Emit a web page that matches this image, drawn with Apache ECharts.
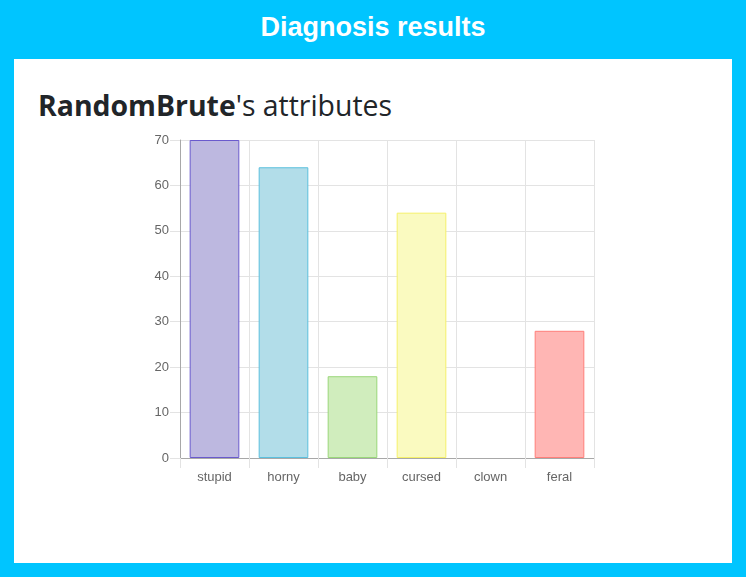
<!DOCTYPE html>
<html>
<head>
<meta charset="utf-8">
<script src="https://cdn.jsdelivr.net/npm/echarts@6/dist/echarts.min.js"></script>
<style>
    html, body { margin: 0; padding: 0; }
    body { width: 746px; height: 577px; background: #00c5ff; position: relative; overflow: hidden; }
    #top_title { position: absolute; left: 0; top: 0; width: 746px; height: 59px; line-height: 54px; text-align: center;
        color: #fff; font-family: "Liberation Sans", Arial, sans-serif; font-weight: bold; font-size: 27px; }
    #panel { position: absolute; left: 14px; top: 59px; width: 718px; height: 504px; background: #fff; }
    #heading { position: absolute; left: 38px; top: 85px; margin: 0; color: #212529;
        font-family: "Open Sans", sans-serif; font-weight: normal; font-size: 28.4px; line-height: 40px; white-space: nowrap; }
    #heading b { font-weight: bold; }
    #attr_chart { position: absolute; left: 0; top: 0; width: 746px; height: 577px; }
</style>
</head>
<body>
<div id="top_title">Diagnosis results</div>
<div id="panel"></div>
<h2 id="heading"><b>RandomBrute</b>'s attributes</h2>
<div id="attr_chart"></div>
<script>
var categories = ['stupid', 'horny', 'baby', 'cursed', 'clown', 'feral'];
var values = [70, 64, 18, 54, 0, 28];
var fillColors = ['#bdb8e0', '#b2dde9', '#d0edbd', '#fafac0', '#e0e0e0', '#ffb6b4'];
var borderColors = ['#6a5acd', '#5bc0de', '#9ad77a', '#f5f06a', '#aaaaaa', '#ff7f7a'];
var yTicks = [0, 10, 20, 30, 40, 50, 60, 70];

var gridColor = '#e3e3e3';
var axisColor = '#a8a8a8';

var bar_data = [];
values.forEach(function (v, i) {
    bar_data.push({
        value: v,
        itemStyle: {
            color: fillColors[i],
            borderColor: borderColors[i],
            // a zero bar draws nothing in the original
            borderWidth: v === 0 ? 0 : 1,
            opacity: v === 0 ? 0 : 1
        }
    });
});

var myChart = echarts.init(document.getElementById('attr_chart'), null, { renderer: 'canvas' });

option = {
    animation: false,
    grid: {
        left: 180,
        top: 140,
        width: 414,
        height: 318,
        containLabel: false
    },
    xAxis: {
        type: 'category',
        data: categories,
        boundaryGap: true,
        axisLine: { show: true, lineStyle: { color: axisColor } },
        axisTick: { show: true, length: 10, alignWithLabel: false, lineStyle: { color: gridColor } },
        axisLabel: {
            color: '#666',
            fontFamily: '"Liberation Sans", Arial, sans-serif',
            fontSize: 13,
            margin: 13,
            interval: 0
        },
        splitLine: { show: true, lineStyle: { color: gridColor } }
    },
    yAxis: {
        type: 'value',
        min: yTicks[0],
        max: yTicks[yTicks.length - 1],
        interval: 10,
        axisLine: { show: true, lineStyle: { color: axisColor } },
        axisTick: { show: true, length: 10, lineStyle: { color: gridColor } },
        axisLabel: {
            color: '#666',
            fontFamily: '"Liberation Sans", Arial, sans-serif',
            fontSize: 13,
            margin: 11
        },
        splitLine: { show: true, lineStyle: { color: gridColor } }
    },
    series: [{
        type: 'bar',
        data: bar_data,
        barWidth: '72%'
    }]
};

myChart.setOption(option);
</script>
</body>
</html>
